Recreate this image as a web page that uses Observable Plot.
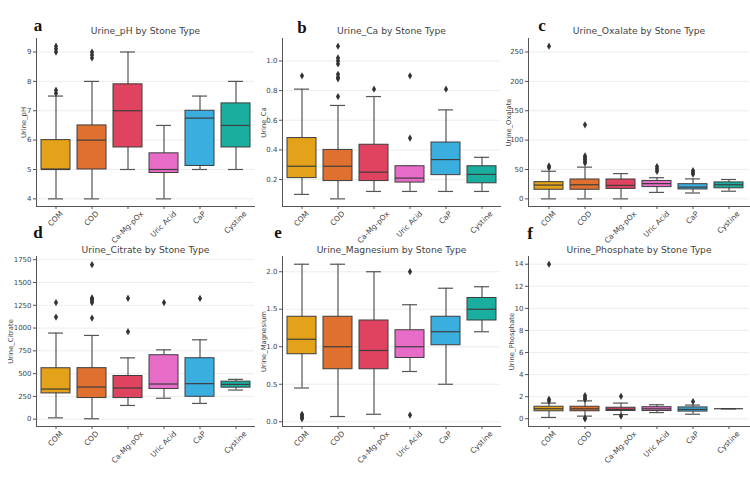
<!DOCTYPE html>
<html><head><meta charset="utf-8">
<script src="https://cdn.jsdelivr.net/npm/d3@7"></script>
<script src="https://cdn.jsdelivr.net/npm/@observablehq/plot@0.6"></script>
<style>
body{margin:0;background:#fff;}
#wrap{position:relative;width:750px;height:481px;overflow:hidden;background:#fff;}
.panel{position:absolute;}
#letters{position:absolute;left:0;top:0;}
</style></head><body><div id="wrap"></div>
<script>
const stoneTypes = ["COM","COD","Ca-Mg-pOx","Uric Acid","CaP","Cystine"];
const stoneColors = ["#e3a21a","#e07030","#e0435f","#e66cc8","#3baee0","#1aae9f"];
const panelLetters = ["a","b","c","d","e","f"];

// a: Urine_pH
const phQ1 = [5.0, 5.0, 5.75, 4.88, 5.12, 5.75];
const phMedian = [5.0, 6.0, 7.0, 5.0, 6.75, 6.5];
const phQ3 = [6.0, 6.5, 7.9, 5.55, 7.0, 7.25];
const phLow = [4.0, 4.0, 5.0, 4.0, 5.0, 5.0];
const phHigh = [7.5, 8.0, 9.0, 6.5, 7.5, 8.0];
const phOutliers = [[7.6, 7.7, 9.0, 9.1, 9.2], [8.8, 8.9, 9.0], [], [], [], []];
const phTicks = [4, 5, 6, 7, 8, 9];
const phTickLabels = ["4", "5", "6", "7", "8", "9"];

// b: Urine_Ca
const caQ1 = [0.21, 0.19, 0.19, 0.18, 0.23, 0.175];
const caMedian = [0.29, 0.29, 0.25, 0.21, 0.335, 0.235];
const caQ3 = [0.48, 0.40, 0.435, 0.29, 0.45, 0.29];
const caLow = [0.10, 0.07, 0.12, 0.12, 0.12, 0.12];
const caHigh = [0.81, 0.70, 0.76, 0.29, 0.67, 0.35];
const caOutliers = [[0.90], [0.76, 0.88, 0.89, 0.91, 0.98, 1.0, 1.02, 1.10], [0.81], [0.48, 0.90], [0.81], []];
const caTicks = [0.2, 0.4, 0.6, 0.8, 1.0];
const caTickLabels = ["0.2", "0.4", "0.6", "0.8", "1.0"];

// c: Urine_Oxalate
const oxQ1 = [15.5, 15.5, 17, 20, 16, 18];
const oxMedian = [23.5, 24, 23, 26, 20, 24];
const oxQ3 = [28.5, 33, 33, 30.5, 25, 28];
const oxLow = [0, 0, 0, 11, 10, 13];
const oxHigh = [47, 54, 43, 36, 34, 33];
const oxOutliers = [[53, 56, 260], [61, 64, 67, 70, 73, 126], [], [47, 51, 55], [42, 45, 48], []];
const oxTicks = [0, 50, 100, 150, 200, 250];
const oxTickLabels = ["0", "50", "100", "150", "200", "250"];

// d: Urine_Citrate
const ciQ1 = [283, 232, 232, 331, 246, 346];
const ciMedian = [331, 353, 342, 386, 390, 382];
const ciQ3 = [559, 560, 474, 702, 669, 412];
const ciLow = [15, 5, 151, 230, 173, 320];
const ciHigh = [945, 919, 673, 761, 871, 437];
const ciOutliers = [[1121, 1279], [1110, 1280, 1300, 1320, 1330, 1695], [960, 1327], [1280], [1325], []];
const ciTicks = [0, 250, 500, 750, 1000, 1250, 1500, 1750];
const ciTickLabels = ["0", "250", "500", "750", "1000", "1250", "1500", "1750"];

// e: Urine_Magnesium
const mgQ1 = [0.90, 0.70, 0.70, 0.85, 1.02, 1.35];
const mgMedian = [1.10, 1.00, 0.95, 1.00, 1.20, 1.50];
const mgQ3 = [1.40, 1.40, 1.35, 1.22, 1.40, 1.65];
const mgLow = [0.45, 0.07, 0.10, 0.67, 0.50, 1.20];
const mgHigh = [2.10, 2.10, 2.00, 1.56, 1.78, 1.80];
const mgOutliers = [[0.04, 0.06, 0.08, 0.10], [], [], [0.09, 2.0], [], []];
const mgTicks = [0, 0.5, 1.0, 1.5, 2.0];
const mgTickLabels = ["0.0", "0.5", "1.0", "1.5", "2.0"];

// f: Urine_Phosphate
const poQ1 = [0.68, 0.68, 0.71, 0.70, 0.65, 0.91];
const poMedian = [0.91, 0.90, 0.85, 0.90, 0.85, 0.91];
const poQ3 = [1.09, 1.09, 1.00, 1.05, 1.03, 0.91];
const poLow = [0.12, 0.24, 0.38, 0.56, 0.41, 0.91];
const poHigh = [1.42, 1.62, 1.42, 1.27, 1.24, 0.91];
const poOutliers = [[1.6, 1.77, 14.0], [0.0, 0.06, 1.75, 1.9, 2.1], [0.25, 2.03], [], [1.56], []];
const poTicks = [0, 2, 4, 6, 8, 10, 12, 14];
const poTickLabels = ["0", "2", "4", "6", "8", "10", "12", "14"];

const panels = [
  {title:"Urine_pH by Stone Type", yLabel:"Urine_pH", q1:phQ1, med:phMedian, q3:phQ3, lo:phLow, hi:phHigh, out:phOutliers, ticks:phTicks, labels:phTickLabels, domain:[3.74, 9.46], left:0, top:0, width:254, height:240, mt:38, mb:34, mr:0, labelDx:13, titleDy:-7},
  {title:"Urine_Ca by Stone Type", yLabel:"Urine_Ca", q1:caQ1, med:caMedian, q3:caQ3, lo:caLow, hi:caHigh, out:caOutliers, ticks:caTicks, labels:caTickLabels, domain:[0.0185, 1.1515], left:246, top:0, width:254, height:240, mt:38, mb:34, mr:0, labelDx:19, titleDy:-7},
  {title:"Urine_Oxalate by Stone Type", yLabel:"Urine_Oxalate", q1:oxQ1, med:oxMedian, q3:oxQ3, lo:oxLow, hi:oxHigh, out:oxOutliers, ticks:oxTicks, labels:oxTickLabels, domain:[-13, 273], left:492, top:0, width:258, height:240, mt:38, mb:34, mr:1, labelDx:20, titleDy:-7},
  {title:"Urine_Citrate by Stone Type", yLabel:"Urine_Citrate", q1:ciQ1, med:ciMedian, q3:ciQ3, lo:ciLow, hi:ciHigh, out:ciOutliers, ticks:ciTicks, labels:ciTickLabels, domain:[-80, 1785], left:0, top:240, width:254, height:241, mt:16, mb:55, mr:0, labelDx:26, titleDy:-6},
  {title:"Urine_Magnesium by Stone Type", yLabel:"Urine_Magnesium", q1:mgQ1, med:mgMedian, q3:mgQ3, lo:mgLow, hi:mgHigh, out:mgOutliers, ticks:mgTicks, labels:mgTickLabels, domain:[-0.063, 2.203], left:246, top:240, width:254, height:241, mt:16, mb:55, mr:0, labelDx:19, titleDy:-6},
  {title:"Urine_Phosphate by Stone Type", yLabel:"Urine_Phosphate", q1:poQ1, med:poMedian, q3:poQ3, lo:poLow, hi:poHigh, out:poOutliers, ticks:poTicks, labels:poTickLabels, domain:[-0.7, 14.7], left:492, top:240, width:258, height:241, mt:16, mb:55, mr:1, labelDx:17, titleDy:-6}
];

const letterPos = [[38,31],[302,33],[542,31],[38,238],[278,238],[530,239]];

const wrap = document.getElementById("wrap");
const ink = "#444";
const lineCol = "#555";
const xFont = 7.5;

// measure label lengths so each rotated label's box is centred on its tick (matplotlib style)
const ctx = document.createElement("canvas").getContext("2d");
ctx.font = xFont + "px 'DejaVu Sans'";
const labelShift = stoneTypes.map(s => 0.354 * (ctx.measureText(s).width - xFont));

panels.forEach((p) => {
  const rows = stoneTypes.map((s, i) => ({s, q1:p.q1[i], med:p.med[i], q3:p.q3[i], lo:p.lo[i], hi:p.hi[i]}));
  const outs = stoneTypes.flatMap((s, i) => p.out[i].map(v => ({s, v})));
  const fmt = d => p.labels[p.ticks.indexOf(d)];
  const xLabelMarks = stoneTypes.map((s, i) => Plot.text([s], {
    x: d => d, frameAnchor: "bottom", rotate: -45, textAnchor: "end", lineAnchor: "top",
    dx: labelShift[i], dy: 4, fontSize: xFont, fill: ink
  }));
  const chart = Plot.plot({
    width: p.width, height: p.height,
    marginTop: p.mt, marginBottom: p.mb, marginLeft: 36, marginRight: p.mr,
    style: {fontFamily: "'DejaVu Sans', sans-serif", fontSize: "7px", color: ink, background: "transparent", overflow: "visible"},
    x: {domain: stoneTypes, paddingInner: 0.2, paddingOuter: 0.1, axis: null},
    y: {domain: p.domain, axis: null},
    color: {domain: stoneTypes, range: stoneColors},
    marks: [
      Plot.gridY(p.ticks, {stroke: "#e8e8e8", strokeOpacity: 1, strokeWidth: 0.8}),
      Plot.ruleX(rows, {x: "s", y1: "lo", y2: "hi", stroke: lineCol, strokeWidth: 1.2}),
      Plot.tickY(rows, {x: "s", y: "lo", stroke: lineCol, strokeWidth: 1.2, insetLeft: 7, insetRight: 7}),
      Plot.tickY(rows, {x: "s", y: "hi", stroke: lineCol, strokeWidth: 1.2, insetLeft: 7, insetRight: 7}),
      Plot.barY(rows, {x: "s", y1: "q1", y2: "q3", fill: "s", stroke: "#3d3d3d", strokeWidth: 1}),
      Plot.tickY(rows, {x: "s", y: "med", stroke: "#3d3d3d", strokeWidth: 1.2}),
      Plot.dot(outs, {x: "s", y: "v", symbol: "diamond", r: 2.2, fill: "#333", stroke: null}),
      Plot.axisY(p.ticks, {tickFormat: fmt, tickSize: 3, tickPadding: 2, stroke: lineCol, fill: ink, fontSize: 7, label: null}),
      Plot.axisX({tickSize: 3, tickFormat: null, stroke: lineCol, label: null}),
      ...xLabelMarks,
      Plot.frame({anchor: "left", stroke: lineCol, strokeWidth: 1}),
      Plot.frame({anchor: "bottom", stroke: lineCol, strokeWidth: 1}),
      Plot.text([p.title], {frameAnchor: "top", lineAnchor: "middle", dy: p.titleDy, fontSize: 9.2, fill: ink}),
      Plot.text([p.yLabel], {frameAnchor: "left", textAnchor: "middle", lineAnchor: "middle", rotate: -90, dx: -p.labelDx, fontSize: 6.8, fill: ink})
    ]
  });
  const div = document.createElement("div");
  div.className = "panel";
  div.style.left = p.left + "px";
  div.style.top = p.top + "px";
  div.style.width = p.width + "px";
  div.style.height = p.height + "px";
  div.appendChild(chart);
  wrap.appendChild(div);
});

const svg = d3.select(wrap).append("svg").attr("id", "letters").attr("width", 750).attr("height", 481);
svg.selectAll("text").data(panelLetters).join("text")
  .attr("x", (d, i) => letterPos[i][0])
  .attr("y", (d, i) => letterPos[i][1])
  .attr("text-anchor", "middle")
  .attr("font-family", "'Liberation Serif', 'DejaVu Serif', serif")
  .attr("font-weight", "bold")
  .attr("font-size", 17)
  .attr("fill", "#111")
  .text(d => d);
</script>
</body></html>
